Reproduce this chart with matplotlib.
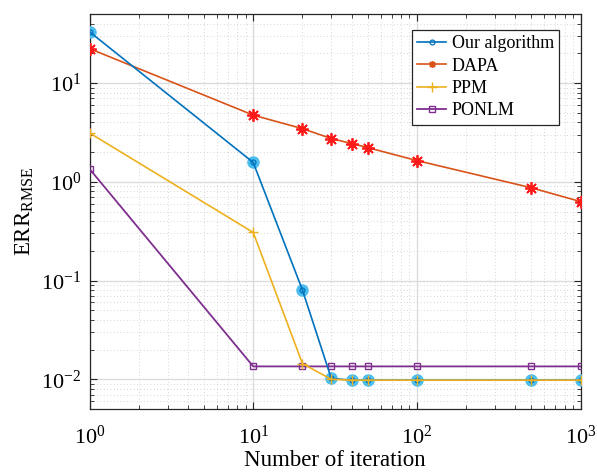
import matplotlib
matplotlib.use("Agg")
import matplotlib.pyplot as plt

plt.rcParams['font.family'] = ['Liberation Serif', 'DejaVu Serif']
plt.rcParams['mathtext.fontset'] = 'custom'
plt.rcParams['mathtext.rm'] = 'Liberation Serif'
plt.rcParams['mathtext.it'] = 'Liberation Serif:italic'

iterations = [1, 10, 20, 30, 40, 50, 100, 500, 1000]
err_ours = [33.0, 1.57, 0.080, 0.0102, 0.0098, 0.0098, 0.0098, 0.0098, 0.0098]
err_dapa = [22.3, 4.73, 3.45, 2.74, 2.44, 2.22, 1.64, 0.87, 0.63]
err_ppm = [3.12, 0.307, 0.0144, 0.0100, 0.0098, 0.0098, 0.0098, 0.0098, 0.0098]
err_ponlm = [1.35, 0.0135, 0.0135, 0.0135, 0.0135, 0.0135, 0.0135, 0.0135, 0.0135]
labels = ['Our algorithm', 'DAPA', 'PPM', 'PONLM']

c_blue = '#0072BD'
c_halo = '#4DBEEE'
c_orange = '#D95319'
c_yellow = '#EDB120'
c_purple = '#7E2F8E'

fig = plt.figure(figsize=(5.97, 4.73), dpi=100)
ax = fig.add_axes([0.150, 0.1353, 0.8224, 0.8351])

ax.set_xscale('log')
ax.set_yscale('log')

# highlighted circles behind the main series
ax.plot(iterations, err_ours, linestyle='none', marker='o', markersize=8,
        color=c_halo, zorder=3)
ax.plot(iterations, err_ours, color=c_blue, lw=1.2, marker='o', markersize=3.5,
        mfc='none', mec=c_blue, mew=0.9, label=labels[0], zorder=4)
ax.plot(iterations, err_dapa, color=c_orange, lw=1.2, label=labels[1], zorder=3,
        marker=(8, 2, 0), markersize=5, mec=c_orange, mew=1.0)
ax.plot(iterations, err_dapa, linestyle='none', marker=(8, 2, 0), markersize=9,
        mec='#FF1A1A', mew=1.3, zorder=4)
ax.plot(iterations, err_ppm, color=c_yellow, lw=1.2, marker='+', markersize=7,
        mew=1.0, label=labels[2], zorder=4)
ax.plot(iterations, err_ponlm, color=c_purple, lw=1.3, marker='s', markersize=5,
        mfc='none', mew=1.0, label=labels[3], zorder=3)

ax.set_xlim(1, 1000)
ax.set_ylim(0.005, 50)

ax.grid(True, which='major', color='#dcdcdc', lw=1.0, linestyle='-')
ax.grid(True, which='minor', color='#c8c8c8', lw=0.6, linestyle=(0, (1, 3)))
ax.set_axisbelow(True)

ax.tick_params(which='both', direction='in', top=True, right=True,
               labelsize=16, color='#262626')
ax.tick_params(which='major', length=5, width=0.8)
ax.tick_params(which='minor', length=3, width=0.6)
ax.tick_params(axis='x', pad=12)
ax.tick_params(axis='y', pad=6)
for sp in ax.spines.values():
    sp.set_color('#262626')
    sp.set_linewidth(0.9)

ax.set_xlabel('Number of iteration', fontsize=16.5, labelpad=1)
ax.set_ylabel(r'ERR$_{\mathrm{RMSE}}$', fontsize=16.5, labelpad=4)

leg = ax.legend(loc='upper right', bbox_to_anchor=(0.957, 0.96), fontsize=13,
                frameon=True, fancybox=False, edgecolor='#262626',
                handlelength=1.6, borderpad=0.3, labelspacing=0.3,
                handletextpad=0.3, borderaxespad=0)
leg.get_frame().set_linewidth(0.9)
leg.get_frame().set_alpha(1)

fig.savefig('out.png', dpi=100)
